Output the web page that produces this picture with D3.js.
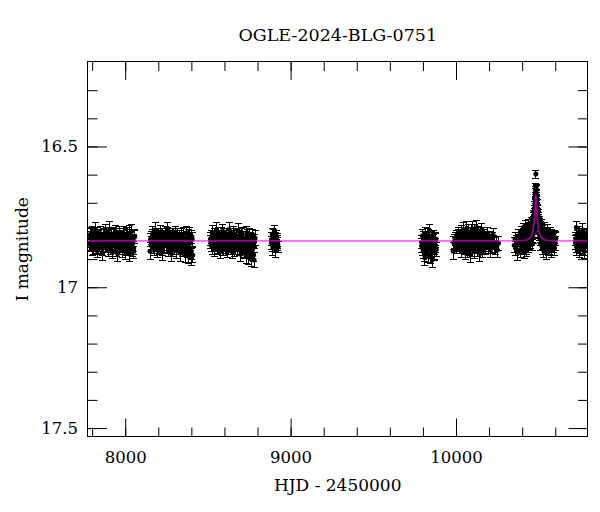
<!DOCTYPE html>
<html>
<head>
<meta charset="utf-8">
<script src="https://cdn.jsdelivr.net/npm/d3@7"></script>
<style>
  html, body { margin: 0; padding: 0; background: #fff; }
  svg { display: block; }
</style>
</head>
<body>
<svg id="chart" width="600" height="512"></svg>
<script>
// ---------------- DATA ----------------
const title = "OGLE-2024-BLG-0751";
const xLabel = "HJD - 2450000";
const yLabel = "I magnitude";
const xDomain = [7775, 10795];
const yDomain = [16.2, 17.53];
const xMajorTicks = [8000, 9000, 10000];
const xTickLabels = ["8000", "9000", "10000"];
const yMajorTicks = [16.5, 17, 17.5];
const yTickLabels = ["16.5", "17", "17.5"];

// Season 1
const s1Hjd = [7785,7790,7796,7801,7805,7811,7816,7822,7827,7831,7838,7843,7848,7854,7859,7863,7870,7875,7880,7886,7891,7896,7902,7907,7912,7918,7923,7928,7934,7939,7944,7950,7955,7960,7966,7971,7976,7982,7987,7993,7998,8003,8009,8014,8020,8026,8031,8037,8042,8048,8053,8058];
const s1Mag = [16.847,16.812,16.838,16.861,16.806,16.829,16.852,16.797,16.843,16.870,16.821,16.834,16.809,16.858,16.826,16.877,16.815,16.840,16.800,16.849,16.831,16.866,16.818,16.794,16.845,16.836,16.873,16.811,16.828,16.855,16.803,16.842,16.880,16.824,16.816,16.851,16.833,16.869,16.808,16.846,16.822,16.875,16.839,16.813,16.857,16.882,16.827,16.801,16.864,16.835,16.872,16.819];
const s1Err = [0.022,0.024,0.021,0.026,0.023,0.025,0.022,0.027,0.021,0.024,0.023,0.022,0.026,0.025,0.021,0.028,0.023,0.022,0.024,0.026,0.021,0.025,0.023,0.027,0.022,0.024,0.026,0.021,0.023,0.025,0.022,0.024,0.028,0.021,0.023,0.026,0.022,0.025,0.024,0.021,0.023,0.027,0.022,0.024,0.026,0.028,0.021,0.023,0.025,0.022,0.027,0.024];
const s1bHjd = [7788,7793,7798,7803,7808,7813,7819,7824,7829,7835,7840,7845,7851,7856,7861,7866,7872,7877,7883,7888,7893,7899,7904,7909,7915,7920,7925,7931,7936,7941,7947,7952,7957,7963,7968,7973,7979,7984,7990,7995,8000,8006,8011,8017,8023,8028,8034,8039,8045,8050,8055];
const s1bMag = [16.826,16.850,16.817,16.839,16.858,16.823,16.844,16.810,16.833,16.855,16.828,16.847,16.819,16.837,16.862,16.814,16.841,16.829,16.853,16.807,16.845,16.821,16.838,16.859,16.816,16.832,16.848,16.812,16.843,16.827,16.865,16.820,16.836,16.851,16.805,16.840,16.824,16.856,16.815,16.834,16.861,16.818,16.849,16.830,16.837,16.808,16.853,16.825,16.842,16.860,16.822];
const s1bErr = [0.023,0.022,0.025,0.021,0.024,0.022,0.026,0.023,0.021,0.024,0.022,0.025,0.023,0.021,0.026,0.022,0.024,0.023,0.025,0.021,0.022,0.024,0.023,0.026,0.021,0.025,0.022,0.024,0.023,0.021,0.027,0.022,0.024,0.025,0.021,0.023,0.022,0.026,0.024,0.021,0.025,0.023,0.022,0.024,0.021,0.026,0.023,0.022,0.025,0.024,0.022];

// Season 2
const s2Hjd = [8150,8156,8161,8167,8172,8177,8183,8188,8193,8199,8204,8210,8215,8220,8226,8231,8236,8242,8247,8253,8258,8263,8269,8274,8279,8285,8290,8296,8301,8306,8312,8317,8322,8328,8333,8339,8344,8349,8355,8360,8365,8371,8376,8382,8387,8392,8398,8403,8408];
const s2Mag = [16.872,16.826,16.843,16.808,16.855,16.833,16.797,16.849,16.868,16.815,16.838,16.860,16.803,16.829,16.876,16.820,16.845,16.811,16.852,16.837,16.795,16.864,16.825,16.848,16.880,16.814,16.841,16.831,16.858,16.805,16.870,16.822,16.846,16.836,16.879,16.812,16.853,16.828,16.866,16.842,16.884,16.806,16.857,16.889,16.812,16.872,16.893,16.821,16.886];
const s2Err = [0.030,0.023,0.022,0.025,0.024,0.021,0.026,0.023,0.027,0.022,0.024,0.025,0.021,0.023,0.028,0.022,0.024,0.026,0.023,0.021,0.025,0.027,0.022,0.024,0.028,0.023,0.021,0.025,0.024,0.022,0.027,0.023,0.021,0.024,0.028,0.022,0.025,0.023,0.026,0.024,0.029,0.022,0.025,0.028,0.023,0.026,0.029,0.024,0.027];
const s2bHjd = [8153,8158,8164,8169,8175,8180,8185,8191,8196,8201,8207,8212,8218,8223,8228,8234,8239,8245,8250,8255,8261,8266,8271,8277,8282,8288,8293,8298,8304,8309,8314,8320,8325,8331,8336,8341,8347,8352,8357,8363,8368,8374,8379,8384,8390,8395,8400,8405];
const s2bMag = [16.831,16.852,16.819,16.840,16.862,16.825,16.846,16.813,16.835,16.857,16.822,16.843,16.829,16.866,16.816,16.838,16.851,16.824,16.845,16.810,16.859,16.833,16.820,16.848,16.837,16.864,16.815,16.842,16.827,16.853,16.818,16.839,16.861,16.823,16.847,16.832,16.868,16.812,16.844,16.856,16.828,16.871,16.836,16.819,16.860,16.842,16.877,16.830];
const s2bErr = [0.023,0.022,0.025,0.021,0.024,0.022,0.026,0.023,0.021,0.024,0.022,0.025,0.023,0.021,0.026,0.022,0.024,0.023,0.025,0.021,0.022,0.024,0.023,0.026,0.021,0.025,0.022,0.024,0.023,0.021,0.027,0.022,0.024,0.025,0.021,0.023,0.022,0.026,0.024,0.021,0.025,0.023,0.022,0.024,0.021,0.026,0.023,0.025];

// Season 3
const s3Hjd = [8515,8520,8526,8531,8537,8542,8547,8553,8558,8564,8569,8574,8580,8585,8591,8596,8601,8607,8612,8618,8623,8628,8634,8639,8645,8650,8655,8661,8666,8672,8677,8682,8688,8693,8699,8704,8709,8715,8720,8726,8731,8736,8742,8747,8753,8758,8763,8769,8774,8779,8785];
const s3Mag = [16.829,16.851,16.806,16.842,16.867,16.818,16.835,16.798,16.856,16.824,16.845,16.873,16.811,16.839,16.802,16.862,16.827,16.849,16.816,16.871,16.833,16.795,16.854,16.822,16.844,16.878,16.809,16.837,16.861,16.819,16.848,16.800,16.866,16.831,16.883,16.814,16.852,16.826,16.875,16.840,16.887,16.806,16.859,16.893,16.812,16.869,16.898,16.818,16.881,16.903,16.826];
const s3Err = [0.023,0.022,0.025,0.021,0.024,0.026,0.022,0.027,0.023,0.024,0.021,0.025,0.023,0.022,0.026,0.024,0.021,0.023,0.025,0.022,0.027,0.024,0.022,0.023,0.025,0.021,0.026,0.024,0.022,0.023,0.025,0.027,0.021,0.024,0.026,0.023,0.022,0.025,0.024,0.021,0.028,0.023,0.025,0.027,0.022,0.026,0.029,0.024,0.027,0.028,0.026];
const s3bHjd = [8518,8523,8528,8534,8539,8545,8550,8555,8561,8566,8572,8577,8582,8588,8593,8599,8604,8609,8615,8620,8626,8631,8636,8642,8647,8653,8658,8663,8669,8674,8680,8685,8690,8696,8701,8707,8712,8717,8723,8728,8734,8739,8744,8750,8755,8761,8766,8771,8777,8782];
const s3bMag = [16.840,16.821,16.857,16.833,16.815,16.848,16.827,16.862,16.836,16.812,16.851,16.829,16.844,16.866,16.819,16.838,16.855,16.823,16.846,16.831,16.860,16.814,16.842,16.826,16.853,16.835,16.868,16.817,16.849,16.832,16.858,16.821,16.845,16.837,16.864,16.811,16.852,16.828,16.869,16.834,16.856,16.819,16.873,16.840,16.826,16.878,16.831,16.862,16.885,16.838];
const s3bErr = [0.023,0.022,0.025,0.021,0.024,0.022,0.026,0.023,0.021,0.024,0.022,0.025,0.023,0.021,0.026,0.022,0.024,0.023,0.025,0.021,0.022,0.024,0.023,0.026,0.021,0.025,0.022,0.024,0.023,0.021,0.027,0.022,0.024,0.025,0.021,0.023,0.022,0.026,0.024,0.021,0.025,0.023,0.022,0.024,0.021,0.026,0.023,0.022,0.025,0.024];

// Season 4
const s4Hjd = [8884,8889,8893,8898,8902,8907,8911,8916,8920,8924];
const s4Mag = [16.842,16.812,16.861,16.828,16.803,16.851,16.870,16.820,16.838,16.857];
const s4Err = [0.024,0.022,0.026,0.023,0.021,0.025,0.024,0.022,0.023,0.021];
const s4bHjd = [8886,8891,8896,8900,8905,8909,8913,8918,8922];
const s4bMag = [16.830,16.850,16.819,16.843,16.835,16.826,16.855,16.833,16.847];
const s4bErr = [0.023,0.022,0.024,0.021,0.025,0.022,0.023,0.024,0.022];

// Season 5
const s5Hjd = [9792,9797,9802,9807,9812,9817,9822,9827,9832,9837,9842,9847,9852,9857,9862,9867,9872,9877,9881];
const s5Mag = [16.853,16.818,16.872,16.836,16.895,16.808,16.861,16.829,16.884,16.845,16.799,16.868,16.840,16.902,16.823,16.857,16.878,16.834,16.866];
const s5Err = [0.025,0.023,0.027,0.024,0.028,0.022,0.026,0.024,0.027,0.023,0.022,0.026,0.024,0.028,0.023,0.025,0.027,0.024,0.026];
const s5bHjd = [9794,9799,9804,9809,9814,9819,9824,9829,9834,9839,9844,9849,9854,9859,9864,9869,9874,9879];
const s5bMag = [16.840,16.862,16.826,16.880,16.848,16.833,16.871,16.815,16.856,16.838,16.889,16.824,16.864,16.846,16.835,16.875,16.852,16.829];
const s5bErr = [0.024,0.026,0.023,0.027,0.025,0.022,0.026,0.024,0.025,0.023,0.028,0.022,0.026,0.024,0.023,0.027,0.025,0.024];

// Season 6
const s6Hjd = [9983,9990,9997,10004,10010,10016,10021,10026,10031,10035,10040,10044,10048,10053,10057,10061,10066,10070,10074,10079,10083,10087,10092,10096,10100,10105,10109,10113,10118,10122,10126,10131,10135,10139,10144,10148,10152,10157,10161,10166,10171,10176,10182,10188,10194,10201,10208,10216,10224,10233,10242,10250,10256];
const s6Mag = [16.872,16.838,16.846,16.824,16.851,16.812,16.860,16.832,16.803,16.869,16.841,16.795,16.855,16.820,16.878,16.836,16.790,16.849,16.815,16.866,16.829,16.884,16.801,16.843,16.793,16.858,16.822,16.874,16.810,16.847,16.788,16.863,16.834,16.806,16.880,16.826,16.852,16.797,16.870,16.839,16.817,16.861,16.831,16.808,16.856,16.825,16.868,16.835,16.814,16.850,16.842,16.868,16.845];
const s6Err = [0.030,0.024,0.023,0.025,0.022,0.024,0.021,0.026,0.023,0.025,0.022,0.024,0.021,0.027,0.023,0.025,0.022,0.024,0.026,0.021,0.023,0.028,0.024,0.022,0.025,0.021,0.026,0.023,0.024,0.022,0.025,0.027,0.021,0.023,0.028,0.024,0.022,0.025,0.026,0.023,0.021,0.024,0.026,0.022,0.025,0.023,0.027,0.024,0.022,0.025,0.023,0.028,0.024];
const s6bHjd = [9987,9994,10001,10007,10013,10019,10024,10029,10033,10038,10042,10046,10051,10055,10059,10064,10068,10072,10077,10081,10085,10090,10094,10098,10103,10107,10111,10116,10120,10124,10129,10133,10137,10142,10146,10150,10155,10159,10164,10169,10174,10179,10185,10191,10197,10204,10212,10220,10228,10238];
const s6bMag = [16.842,16.829,16.856,16.835,16.818,16.847,16.827,16.839,16.858,16.821,16.844,16.830,16.862,16.811,16.850,16.836,16.825,16.872,16.803,16.845,16.819,16.857,16.832,16.866,16.814,16.841,16.799,16.853,16.828,16.860,16.837,16.816,16.849,16.823,16.864,16.834,16.808,16.855,16.830,16.846,16.820,16.851,16.838,16.826,16.844,16.833,16.856,16.828,16.842,16.859];
const s6bErr = [0.023,0.022,0.025,0.021,0.024,0.022,0.026,0.023,0.021,0.024,0.022,0.025,0.023,0.021,0.026,0.022,0.024,0.023,0.025,0.021,0.022,0.024,0.023,0.026,0.021,0.025,0.022,0.024,0.023,0.021,0.027,0.022,0.024,0.025,0.021,0.023,0.022,0.026,0.024,0.021,0.025,0.023,0.022,0.024,0.021,0.026,0.023,0.022,0.025,0.024];

// Season 7 (with the event)
const s7Hjd = [10352,10357,10362,10367,10372,10377,10382,10386,10390,10394,10398,10402,10405,10408,10411,10414,10417,10420,10423,10426,10429,10432,10435,10438,10441,10444,10447,10450,10453,10456,10458,10460,10462,10464,10466,10468,10470,10472,10474,10476,10477,10478,10479,10480,10481,10482,10483,10483,10484,10485,10486,10487,10488,10489,10490,10492,10494,10496,10498,10500,10502,10504,10506,10508,10510,10512,10515,10518,10521,10524,10527,10530,10533,10536,10539,10542,10545,10549,10553,10557,10561,10566,10571,10576,10581,10587,10593,10599,10604];
const s7Mag = [16.851,16.829,16.862,16.840,16.876,16.818,16.848,16.833,16.869,16.806,16.845,16.822,16.858,16.797,16.838,16.871,16.812,16.786,16.849,16.826,16.864,16.801,16.835,16.780,16.853,16.815,16.792,16.840,16.808,16.825,16.789,16.846,16.806,16.778,16.823,16.790,16.757,16.801,16.740,16.766,16.715,16.745,16.690,16.722,16.668,16.700,16.598,16.648,16.675,16.655,16.692,16.712,16.680,16.735,16.708,16.752,16.728,16.774,16.755,16.792,16.770,16.811,16.786,16.829,16.799,16.846,16.781,16.822,16.858,16.803,16.838,16.869,16.794,16.827,16.851,16.812,16.874,16.833,16.799,16.861,16.823,16.846,16.810,16.868,16.836,16.853,16.821,16.844,16.829];
const s7Err = [0.027,0.024,0.026,0.023,0.028,0.024,0.025,0.022,0.027,0.023,0.024,0.022,0.025,0.023,0.021,0.026,0.023,0.022,0.024,0.022,0.025,0.023,0.021,0.022,0.024,0.022,0.023,0.024,0.022,0.021,0.023,0.024,0.022,0.022,0.021,0.022,0.021,0.022,0.020,0.021,0.019,0.020,0.018,0.019,0.018,0.018,0.014,0.017,0.018,0.017,0.018,0.019,0.018,0.020,0.019,0.020,0.020,0.021,0.021,0.022,0.021,0.022,0.022,0.023,0.022,0.024,0.022,0.023,0.025,0.022,0.024,0.026,0.023,0.024,0.025,0.023,0.027,0.024,0.023,0.026,0.024,0.025,0.023,0.026,0.024,0.025,0.023,0.025,0.024];
const s7bHjd = [10400,10404,10407,10410,10413,10416,10419,10422,10425,10428,10431,10434,10437,10440,10443,10446,10449,10452,10455,10457,10459,10461,10463,10465,10467,10469,10471,10473,10475,10476,10478,10479,10480,10481,10482,10484,10485,10486,10487,10488,10489,10490,10491,10493,10495,10497,10499,10501,10503,10505,10507,10509,10511,10513,10516,10519,10522,10525,10528,10531,10534,10537,10541,10544,10547,10551,10555,10559,10564,10569,10574,10579,10584,10590,10596,10602];
const s7bMag = [16.829,16.846,16.813,16.855,16.827,16.841,16.803,16.836,16.859,16.818,16.847,16.829,16.808,16.842,16.795,16.833,16.817,16.798,16.827,16.810,16.772,16.820,16.792,16.808,16.770,16.784,16.748,16.762,16.728,16.750,16.708,16.728,16.683,16.700,16.660,16.652,16.688,16.670,16.697,16.720,16.702,16.741,16.724,16.745,16.762,16.745,16.778,16.764,16.790,16.776,16.805,16.787,16.818,16.797,16.830,16.804,16.842,16.815,16.826,16.845,16.811,16.839,16.856,16.822,16.840,16.815,16.848,16.832,16.857,16.826,16.843,16.818,16.850,16.834,16.861,16.827];
const s7bErr = [0.023,0.025,0.022,0.026,0.023,0.024,0.022,0.023,0.026,0.022,0.024,0.023,0.022,0.024,0.022,0.023,0.022,0.022,0.023,0.021,0.021,0.022,0.021,0.022,0.020,0.021,0.020,0.020,0.019,0.020,0.019,0.019,0.018,0.018,0.017,0.017,0.018,0.018,0.018,0.019,0.018,0.020,0.019,0.020,0.020,0.020,0.021,0.021,0.022,0.021,0.022,0.022,0.023,0.022,0.023,0.022,0.024,0.023,0.023,0.025,0.022,0.024,0.026,0.023,0.024,0.023,0.025,0.024,0.026,0.023,0.025,0.023,0.025,0.024,0.026,0.024];

// Season 8
const s8Hjd = [10722,10727,10731,10736,10740,10745,10749,10754,10758,10763,10767,10772,10776,10781,10785,10790];
const s8Mag = [16.842,16.788,16.861,16.820,16.849,16.806,16.868,16.833,16.815,16.857,16.797,16.840,16.872,16.826,16.851,16.812];
const s8Err = [0.025,0.023,0.027,0.022,0.024,0.023,0.026,0.022,0.023,0.025,0.022,0.024,0.026,0.023,0.024,0.022];
const s8bHjd = [10724,10729,10734,10738,10743,10747,10752,10756,10761,10765,10770,10774,10779,10783,10788];
const s8bMag = [16.828,16.850,16.836,16.809,16.846,16.831,16.855,16.822,16.840,16.834,16.862,16.818,16.845,16.837,16.829];
const s8bErr = [0.023,0.025,0.022,0.024,0.023,0.026,0.024,0.022,0.023,0.025,0.024,0.022,0.026,0.023,0.024];

// Model curve
const modelHjd = [7775,10300,10420,10440,10455,10465,10472,10477,10480,10483,10486,10489,10494,10501,10511,10526,10546,10650,10795];
const modelMag = [16.835,16.835,16.833,16.828,16.818,16.800,16.770,16.735,16.705,16.672,16.705,16.735,16.770,16.800,16.818,16.828,16.833,16.835,16.835];

// ---------------- BUILD TABLES ----------------
function zip(h, m, e) { return h.map((t, i) => ({ t: t, m: m[i], e: e[i] })); }
const points = [].concat(
  zip(s1Hjd, s1Mag, s1Err), zip(s1bHjd, s1bMag, s1bErr),
  zip(s2Hjd, s2Mag, s2Err), zip(s2bHjd, s2bMag, s2bErr),
  zip(s3Hjd, s3Mag, s3Err), zip(s3bHjd, s3bMag, s3bErr),
  zip(s4Hjd, s4Mag, s4Err), zip(s4bHjd, s4bMag, s4bErr),
  zip(s5Hjd, s5Mag, s5Err), zip(s5bHjd, s5bMag, s5bErr),
  zip(s6Hjd, s6Mag, s6Err), zip(s6bHjd, s6bMag, s6bErr),
  zip(s7Hjd, s7Mag, s7Err), zip(s7bHjd, s7bMag, s7bErr),
  zip(s8Hjd, s8Mag, s8Err), zip(s8bHjd, s8bMag, s8bErr)
);
const model = modelHjd.map((t, i) => ({ t: t, m: modelMag[i] }));

// ---------------- DRAW ----------------
const FONT = "'DejaVu Serif', serif";
const L = 88, R = 587.5, T = 62, B = 436.5;
const svg = d3.select("#chart");
const x = d3.scaleLinear().domain(xDomain).range([L, R]);
const y = d3.scaleLinear().domain(yDomain).range([T, B]);

svg.append("defs").append("clipPath").attr("id", "plotclip")
  .append("rect").attr("x", L).attr("y", T).attr("width", R - L).attr("height", B - T);

const plot = svg.append("g").attr("clip-path", "url(#plotclip)");

// error bars
const eb = plot.append("g").attr("stroke", "#000").attr("stroke-width", 1)
  .attr("shape-rendering", "crispEdges");
eb.selectAll("line.v").data(points).join("line").attr("class", "v")
  .attr("x1", d => x(d.t)).attr("x2", d => x(d.t))
  .attr("y1", d => y(d.m - d.e)).attr("y2", d => y(d.m + d.e));
eb.selectAll("line.ct").data(points).join("line").attr("class", "ct")
  .attr("x1", d => x(d.t) - 3.5).attr("x2", d => x(d.t) + 3.5)
  .attr("y1", d => y(d.m - d.e)).attr("y2", d => y(d.m - d.e));
eb.selectAll("line.cb").data(points).join("line").attr("class", "cb")
  .attr("x1", d => x(d.t) - 3.5).attr("x2", d => x(d.t) + 3.5)
  .attr("y1", d => y(d.m + d.e)).attr("y2", d => y(d.m + d.e));

// points
plot.append("g").selectAll("circle").data(points).join("circle")
  .attr("cx", d => x(d.t)).attr("cy", d => y(d.m)).attr("r", 2.5).attr("fill", "#000");

// model line
plot.append("path").datum(model)
  .attr("fill", "none").attr("stroke", "#ff00ff").attr("stroke-opacity", 0.6)
  .attr("stroke-width", 1.7)
  .attr("d", d3.line().x(d => x(d.t)).y(d => y(d.m)).curve(d3.curveMonotoneX));

// axes
const xMinor = d3.range(7800, 10800, 200);
const yMinor = d3.range(16.3, 17.55, 0.1).map(v => +v.toFixed(1));

function styleAxis(g) {
  g.select(".domain").remove();
  g.attr("font-family", FONT).attr("font-size", 16.5);
  g.selectAll("text").attr("fill", "#000");
  g.selectAll("line").attr("stroke", "#000");
}

svg.append("g").attr("transform", `translate(0,${B})`)
  .call(d3.axisBottom(x).tickValues(xMinor).tickSize(-9).tickFormat("")).call(styleAxis);
svg.append("g").attr("transform", `translate(0,${B})`)
  .call(d3.axisBottom(x).tickValues(xMajorTicks).tickSize(-18).tickPadding(15)
    .tickFormat((d, i) => xTickLabels[i])).call(styleAxis);
svg.append("g").attr("transform", `translate(0,${T})`)
  .call(d3.axisTop(x).tickValues(xMinor).tickSize(-9).tickFormat("")).call(styleAxis);
svg.append("g").attr("transform", `translate(0,${T})`)
  .call(d3.axisTop(x).tickValues(xMajorTicks).tickSize(-18).tickFormat("")).call(styleAxis);

svg.append("g").attr("transform", `translate(${L},0)`)
  .call(d3.axisLeft(y).tickValues(yMinor).tickSize(-9.5).tickFormat("")).call(styleAxis);
svg.append("g").attr("transform", `translate(${L},0)`)
  .call(d3.axisLeft(y).tickValues(yMajorTicks).tickSize(-19).tickPadding(10)
    .tickFormat((d, i) => yTickLabels[i])).call(styleAxis);
svg.append("g").attr("transform", `translate(${R},0)`)
  .call(d3.axisRight(y).tickValues(yMinor).tickSize(-9.5).tickFormat("")).call(styleAxis);
svg.append("g").attr("transform", `translate(${R},0)`)
  .call(d3.axisRight(y).tickValues(yMajorTicks).tickSize(-19).tickFormat("")).call(styleAxis);

// frame
svg.append("rect").attr("x", L - 0.5).attr("y", T - 0.5).attr("width", R - L + 0.5).attr("height", B - T + 0.5)
  .attr("fill", "none").attr("stroke", "#000").attr("stroke-width", 1);

// titles
svg.append("text").attr("x", (L + R) / 2).attr("y", 41).attr("text-anchor", "middle")
  .attr("font-family", FONT).attr("font-size", 17.5).attr("fill", "#000").text(title);
svg.append("text").attr("x", (L + R) / 2).attr("y", 491).attr("text-anchor", "middle")
  .attr("font-family", FONT).attr("font-size", 17).attr("fill", "#000").text(xLabel);
svg.append("text").attr("transform", `translate(28,${(T + B) / 2}) rotate(-90)`)
  .attr("text-anchor", "middle")
  .attr("font-family", FONT).attr("font-size", 17).attr("fill", "#000").text(yLabel);
</script>
</body>
</html>
